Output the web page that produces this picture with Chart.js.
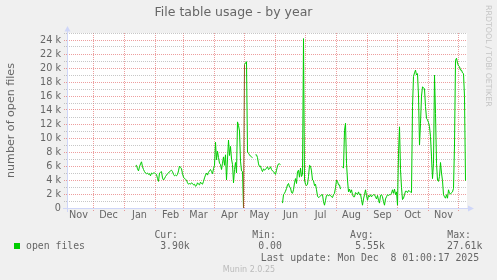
<!DOCTYPE html>
<html><head><meta charset="utf-8">
<script src="https://cdn.jsdelivr.net/npm/chart.js@4.4.1/dist/chart.umd.min.js"></script>
<style>html,body{margin:0;padding:0;background:#F0F0F0;}canvas{display:block;}</style>
</head><body>
<canvas id="c" width="497" height="280"></canvas>
<script>
// ---------- data ----------
const chartTitle = 'File table usage - by year';
const yAxisTitle = 'number of open files';
const seriesName = 'open files';
const referenceDate = [2024, 11, 1];          // day 0 = 2024-12-01
const firstSampleDay = 42;                    // 2025-01-12
const viewStartDay = -26.5;                   // left edge of the plot
const viewEndDay = 373.5;                     // right edge of the plot
// daily number of open files, in thousands (null = no data)
const openFilesK = [
 6.0,6.1,5.6,5.3,5.9,6.3,6.6,5.9,5.5,5.2,5.0,4.9,5.0,4.8,4.9,4.6,5.0,4.9,5.0,5.0,
 4.9,4.8,4.2,3.8,5.0,5.1,5.2,4.3,4.0,4.2,4.5,4.7,4.9,5.0,5.2,5.3,5.4,5.2,4.8,4.6,
 4.7,4.6,4.8,5.3,6.0,5.8,5.6,4.9,4.4,4.2,4.1,4.0,3.6,3.4,3.5,3.4,3.6,3.5,3.3,3.4,
 3.1,3.2,3.6,3.4,3.3,3.7,3.5,3.4,3.8,4.3,4.7,5.0,4.7,5.1,5.3,5.5,5.2,4.9,5.6,6.1,
 9.4,6.9,8.1,7.2,6.4,6.2,5.5,6.4,7.3,6.1,7.6,4.0,7.0,9.7,7.5,8.8,7.0,6.2,3.6,5.5,
 6.5,5.0,12.3,11.8,11.0,6.7,5.3,5.2,0,20.5,20.7,20.9,8.0,7.8,7.6,7.4,7.3,7.2,null,null,
 7.6,7.6,7.2,6.3,5.9,6.0,5.5,5.2,5.6,5.4,5.5,5.7,5.9,5.5,5.6,5.9,5.5,5.3,5.2,5.0,
 4.8,5.4,6.0,6.3,6.3,6.2,null,0.7,1.9,2.1,2.4,2.8,3.3,3.5,3.0,2.9,2.2,2.1,2.6,3.6,
 4.2,3.5,5.2,5.4,4.4,5.7,4.5,4.8,24.2,4.0,3.4,3.2,3.4,4.5,6.1,6.0,5.3,4.0,3.9,3.2,
 3.4,2.6,1.7,1.5,1.6,1.7,1.9,1.9,0.9,0.4,1.1,1.8,1.9,1.7,1.9,1.8,1.6,1.5,1.9,2.1,
 2.9,4.0,3.8,3.3,3.3,2.7,null,5.9,5.7,11.1,12.1,6.4,4.0,2.3,2.7,2.2,2.6,1.9,1.6,1.6,
 2.2,2.1,1.9,2.3,1.9,2.0,1.2,0.4,1.3,1.9,2.6,1.8,1.1,1.8,1.6,1.9,1.6,1.8,1.9,1.9,
 1.6,1.3,1.8,1.1,0.7,1.8,1.9,1.6,0.9,0.4,1.3,1.6,1.9,1.8,1.9,1.9,2.1,2.6,2.1,2.7,
 1.9,2.3,0.4,7.8,11.6,5.5,2.9,1.2,1.4,1.9,2.4,2.4,2.2,2.5,2.4,2.3,2.2,14.5,18.8,19.3,
 19.7,19.0,19.2,16.0,9.0,12.1,16.0,17.3,17.2,17.0,14.5,12.8,12.6,12.2,11.6,10.2,7.3,4.2,6.4,19.0,
 13.5,6.4,4.0,3.8,4.5,6.5,5.0,3.9,1.9,1.6,1.4,1.9,1.4,2.6,2.1,2.0,2.2,2.3,2.8,9.0,
 21.1,21.4,20.7,20.3,20.2,19.7,19.7,19.3,19.2,15.9,3.9
];
const monthNames = ['Nov','Dec','Jan','Feb','Mar','Apr','May','Jun','Jul','Aug','Sep','Oct','Nov','Dec'];
const firstMonth = [2024, 10];                // Nov 2024
const labelOffsetDays = 15;                   // month label placed 15 days after month start
const yTicksK = [0,1,2,3,4,5,6,7,8,9,10,11,12,13,14,15,16,17,18,19,20,21,22,23,24,25];
const yMaxK = 25;
const legendHeads = ['Cur:','Min:','Avg:','Max:'];
const legendValues = ['3.90k','0.00','5.55k','27.61k'];
const lastUpdate = 'Last update: Mon Dec  8 01:00:17 2025';
const generator = 'Munin 2.0.25';
const watermark = 'RRDTOOL / TOBI OETIKER';

// ---------- derived ----------
const DAY = 86400000;
const ref = Date.UTC(...referenceDate);
const monthStartDays = monthNames.map((_, i) => Math.round((Date.UTC(firstMonth[0], firstMonth[1] + i, 1) - ref) / DAY));
const gridDays = monthStartDays.filter(d => d >= viewStartDay && d <= viewEndDay);
const monthLabelTicks = monthStartDays.map((d, i) => ({ value: d + labelOffsetDays, name: monthNames[i] }))
  .filter(t => t.value >= viewStartDay && t.value <= viewEndDay);
const dayLabels = openFilesK.map((_, i) => firstSampleDay + i);

const FONT = '#666666';
const AXIS = '#CFD6F8';
const MAJOR = 'rgba(222,79,79,0.55)';
const MINOR = 'rgba(143,143,143,0.5)';

const decor = {
  id: 'decor',
  beforeDraw(chart) {
    const { ctx, chartArea: a } = chart;
    ctx.save();
    ctx.fillStyle = '#FFFFFF';
    ctx.fillRect(a.left, a.top, a.right - a.left, a.bottom - a.top);
    ctx.restore();
  },
  afterDatasetsDraw(chart) {
    const { ctx, chartArea: a } = chart;
    ctx.save();
    ctx.strokeStyle = AXIS; ctx.fillStyle = AXIS; ctx.lineWidth = 1;
    ctx.beginPath();
    ctx.moveTo(a.left - 4, a.bottom + 0.5); ctx.lineTo(a.right + 1, a.bottom + 0.5);
    ctx.moveTo(a.left + 0.5, a.bottom + 4); ctx.lineTo(a.left + 0.5, a.top - 2);
    ctx.stroke();
    ctx.beginPath();
    ctx.moveTo(a.right + 1, a.bottom - 2.5); ctx.lineTo(a.right + 1, a.bottom + 3.5); ctx.lineTo(a.right + 7, a.bottom + 0.5); ctx.closePath();
    ctx.moveTo(a.left - 2.5, a.top - 1.5); ctx.lineTo(a.left + 3.5, a.top - 1.5); ctx.lineTo(a.left + 0.5, a.top - 7); ctx.closePath();
    ctx.fill();
    ctx.restore();
  },
  afterDraw(chart) {
    const { ctx } = chart;
    ctx.save();
    // legend
    ctx.fillStyle = '#00CC00';
    ctx.fillRect(14, 243, 6, 6);
    ctx.fillStyle = FONT;
    ctx.font = '9.8px "DejaVu Sans Mono"';
    ctx.textBaseline = 'alphabetic';
    ctx.textAlign = 'left';
    ctx.fillText(seriesName, 26, 249.3);
    const headX = [154.4, 252.3, 350, 447.3];
    const valX = [160.2, 258.3, 355.3, 447];
    legendHeads.forEach((h, i) => ctx.fillText(h, headX[i], 237.5));
    legendValues.forEach((v, i) => ctx.fillText(v, valX[i], 249.3));
    ctx.fillText(lastUpdate, 260.8, 261.3);
    // generator
    ctx.fillStyle = '#BBBBBB';
    ctx.font = '8px "DejaVu Sans"';
    ctx.textAlign = 'center';
    ctx.fillText(generator, 249, 271.5);
    // rrdtool watermark
    ctx.translate(488.4, 5);
    ctx.rotate(Math.PI / 2);
    ctx.textAlign = 'left';
    ctx.textBaseline = 'middle';
    ctx.font = '7.9px "DejaVu Sans"';
    ctx.fillStyle = '#C4C4C4';
    ctx.fillText(watermark, 0, 0);
    ctx.restore();
  }
};

new Chart(document.getElementById('c'), {
  type: 'line',
  data: {
    labels: dayLabels,
    datasets: [{
      label: seriesName,
      data: openFilesK,
      xAxisID: 'x', yAxisID: 'y',
      borderColor: '#00CC00',
      borderWidth: 1,
      borderJoinStyle: 'round',
      pointRadius: 0,
      tension: 0,
      fill: false,
      spanGaps: false,
      segment: { borderColor: c => (c.p0.parsed.y === 0 ? '#8A5A1E' : undefined) }
    }]
  },
  options: {
    responsive: false,
    animation: false,
    devicePixelRatio: 1,
    layout: { padding: { left: 0, right: 30, top: 0, bottom: 0 } },
    plugins: {
      legend: { display: false },
      tooltip: { enabled: false },
      title: {
        display: true, text: chartTitle, color: FONT,
        font: { family: 'DejaVu Sans', size: 12.5, weight: 'normal', lineHeight: 1.2 },
        padding: { top: 5, bottom: 13 }
      }
    },
    scales: {
      x: {
        type: 'linear', position: 'bottom', weight: 0,
        min: viewStartDay, max: viewEndDay,
        afterBuildTicks: s => { s.ticks = gridDays.map(v => ({ value: v })); },
        afterFit: s => { s.height = 0; },
        ticks: { display: false },
        grid: { color: MAJOR, lineWidth: 1, drawTicks: true, tickLength: 3, tickBorderDash: [1, 1], borderDash: [1, 1] },
        border: { display: false, dash: [1, 1] }
      },
      xl: {
        type: 'linear', position: 'bottom', weight: 1,
        min: viewStartDay, max: viewEndDay,
        afterBuildTicks: s => { s.ticks = monthLabelTicks.map(t => ({ value: t.value })); },
        afterFit: s => { s.height = 72; },
        ticks: {
          autoSkip: false, maxRotation: 0, padding: 2, color: FONT,
          font: { family: 'DejaVu Sans', size: 9.7 },
          callback: (v, i) => monthLabelTicks[i].name
        },
        grid: { display: false, drawTicks: false },
        border: { display: false }
      },
      y: {
        type: 'linear', position: 'left',
        min: 0, max: yMaxK,
        afterBuildTicks: s => { s.ticks = yTicksK.map(v => ({ value: v })); },
        afterFit: s => { s.width = 67; },
        ticks: {
          autoSkip: false, padding: 3, color: FONT,
          font: { family: 'DejaVu Sans', size: 9.7 },
          callback: v => (v % 2 === 0 ? (v === 0 ? '0' : v + ' k') : '')
        },
        grid: {
          color: c => (c.tick && c.tick.value % 2 === 0 ? MAJOR : MINOR),
          lineWidth: 1, drawTicks: true, tickLength: 3, tickBorderDash: [1, 1], borderDash: [1, 1]
        },
        border: { display: false, dash: [1, 1] },
        title: {
          display: true, text: yAxisTitle, color: FONT,
          font: { family: 'DejaVu Sans', size: 11.1 },
          padding: { top: 4, bottom: 0 }
        }
      }
    }
  },
  plugins: [decor]
});
</script>
</body></html>
